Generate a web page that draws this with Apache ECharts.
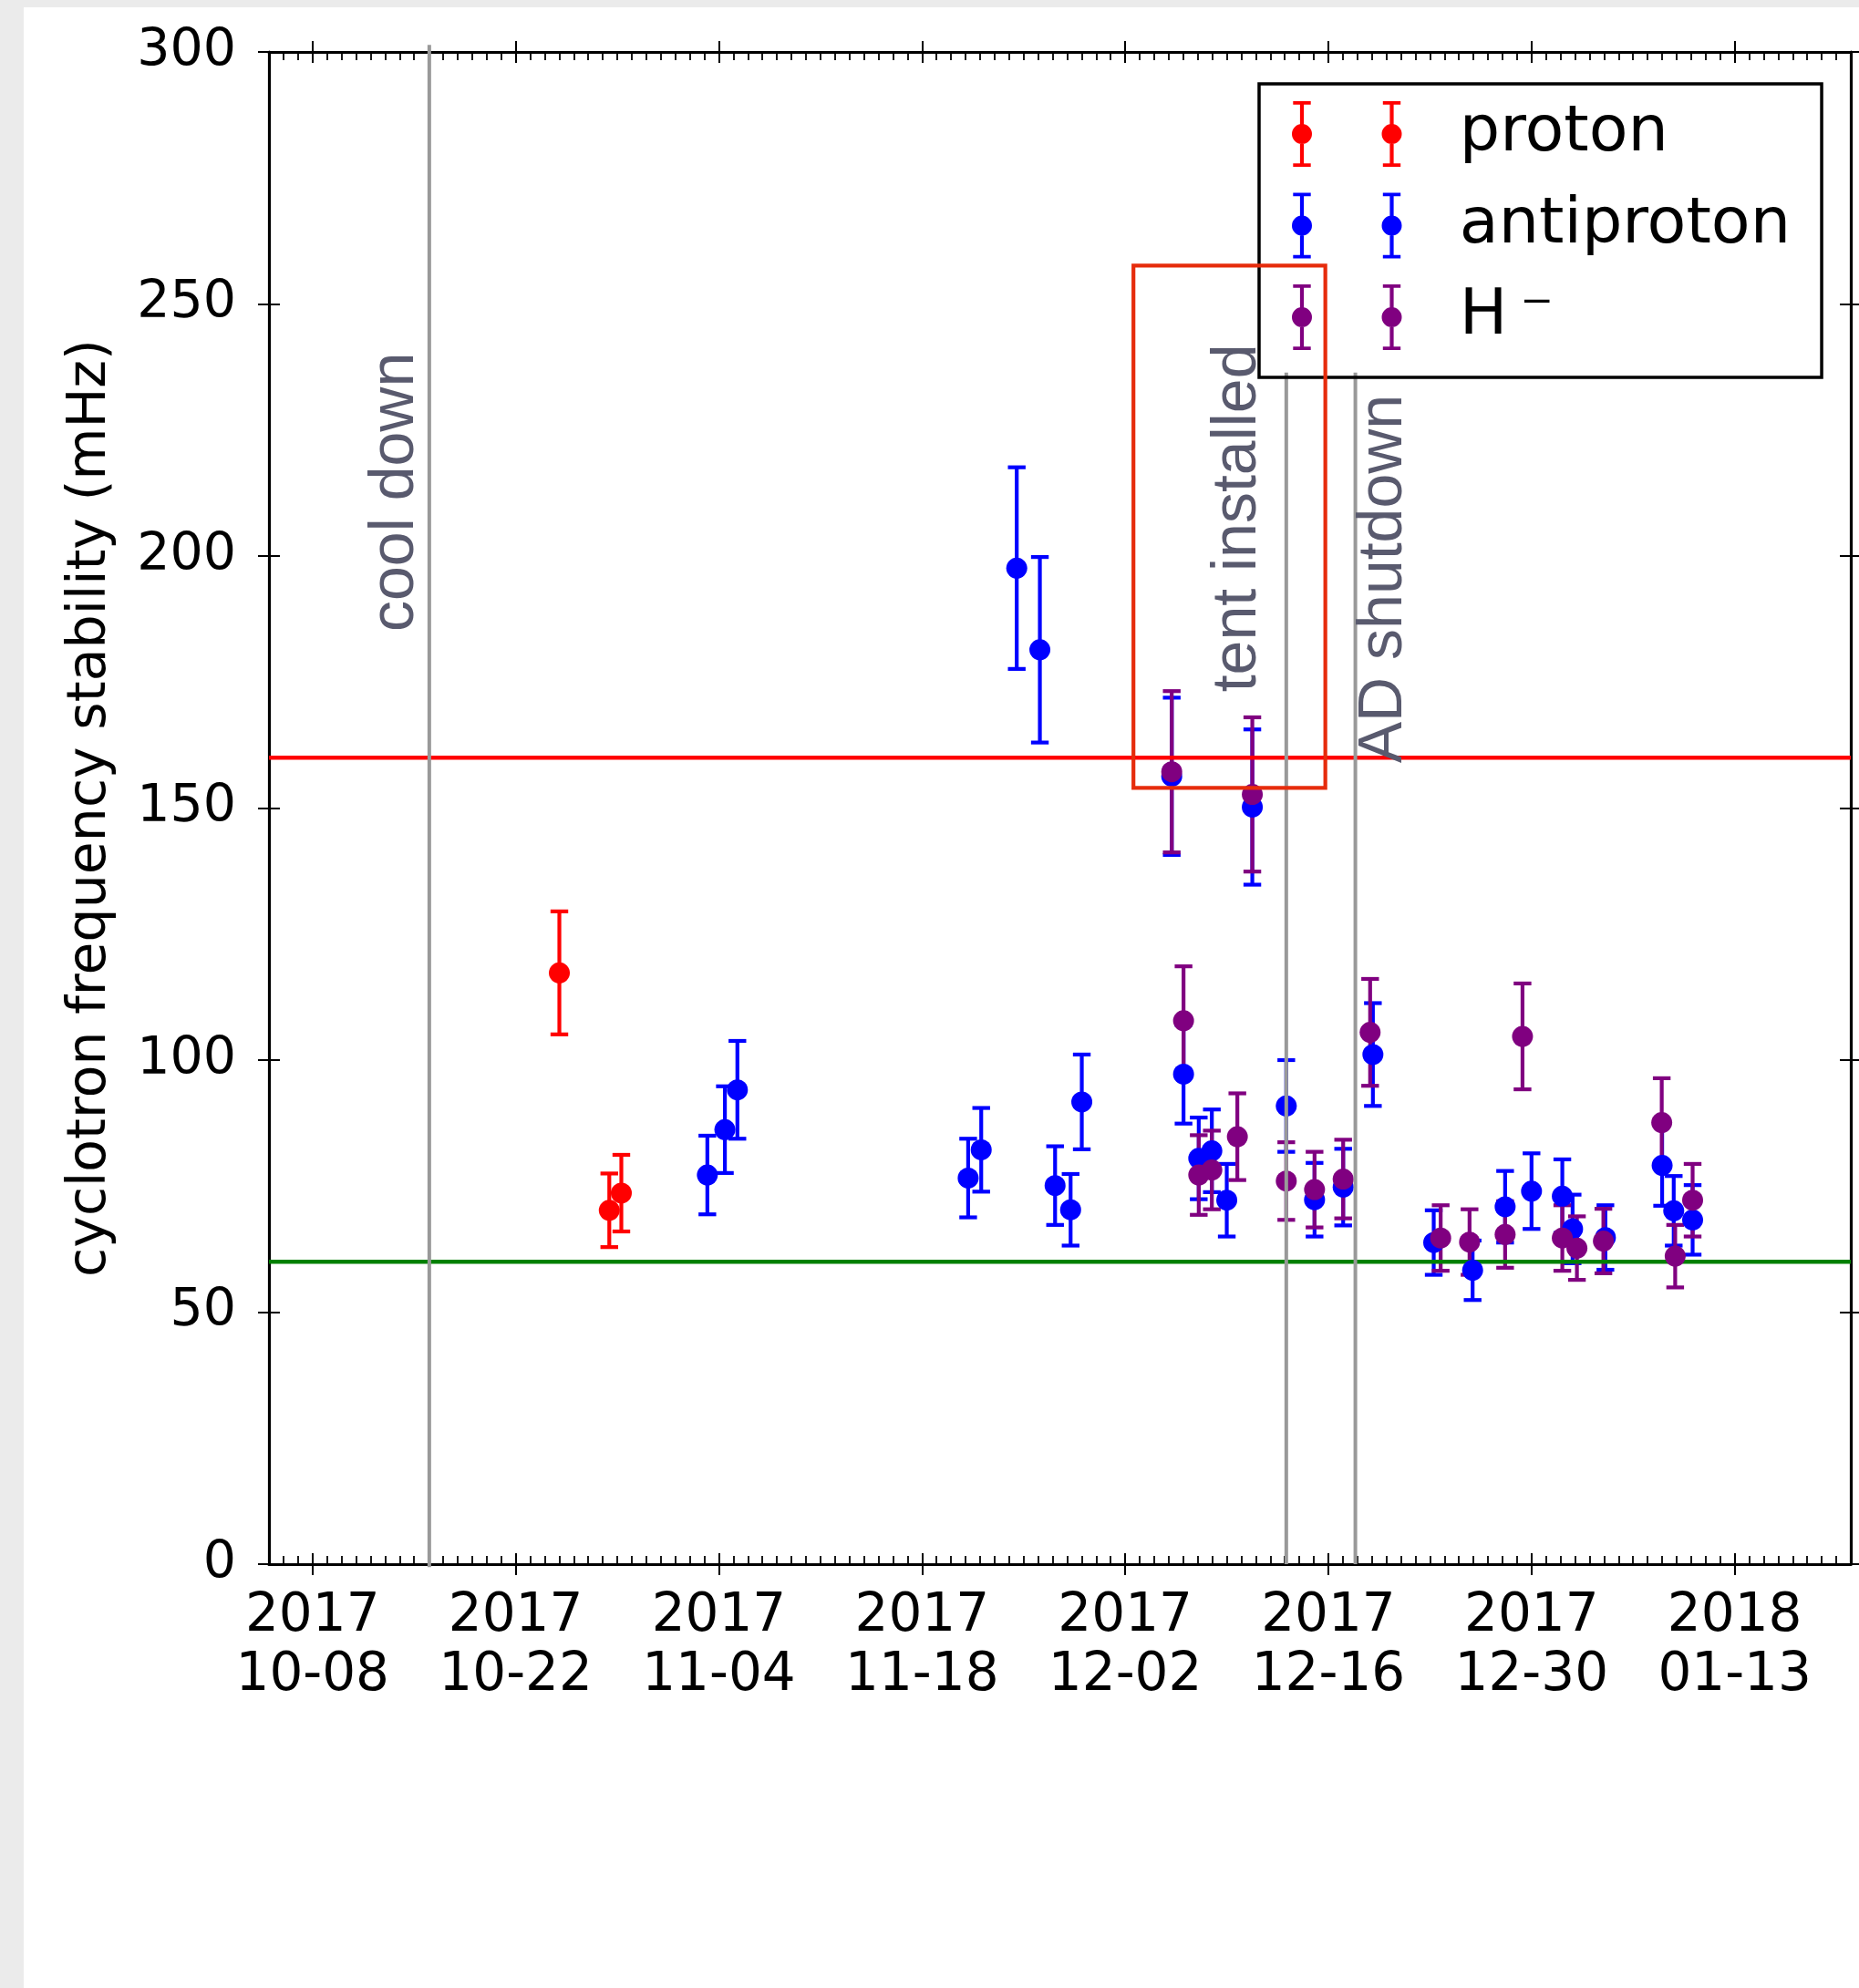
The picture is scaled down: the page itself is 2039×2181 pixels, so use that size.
<!DOCTYPE html>
<html>
<head>
<meta charset="utf-8">
<title>Cyclotron frequency stability</title>
<script src="https://cdn.jsdelivr.net/npm/echarts@6/dist/echarts.min.js"></script>
<style>
  html, body { margin: 0; padding: 0; width: 2039px; height: 2181px; overflow: hidden; background: #ebebeb; }
  #sheet { position: absolute; left: 26px; top: 8px; right: 0; bottom: 0; background: #ffffff; }
  #chart { position: absolute; left: 0; top: 0; width: 2039px; height: 2181px; }
</style>
</head>
<body>
<div id="sheet"></div>
<div id="chart"></div>
<script>
// ---- time axis: days counted from local midnight 2017-10-08 ----
const ORIGIN = '2017-10-08T00:00+02:00';
const X_MIN = -3;
const X_MAX = 106;
const tickDays = [0, 14, 28, 42, 56, 70, 84, 98];
const tickLabels = ['2017\n10-08', '2017\n10-22', '2017\n11-04', '2017\n11-18',
                    '2017\n12-02', '2017\n12-16', '2017\n12-30', '2018\n01-13'];

// ---- measurements: time, stability (mHz), uncertainty (mHz) ----
const protonDates = ['2017-10-25T00:15+02:00', '2017-10-28T10:50+02:00', '2017-10-29T05:45+01:00'];
const protonValues = [117.3, 70.2, 73.6];
const protonErrors = [12.2, 7.3, 7.6];

const antiprotonDates = [
  '2017-11-04T04:00+01:00', '2017-11-05T09:00+01:00', '2017-11-06T05:40+01:00',
  '2017-11-22T03:20+01:00', '2017-11-23T00:55+01:00', '2017-11-25T11:40+01:00',
  '2017-11-27T01:55+01:00', '2017-11-28T03:05+01:00', '2017-11-29T04:45+01:00',
  '2017-11-29T23:15+01:00', '2017-12-06T04:00+01:00', '2017-12-06T23:30+01:00',
  '2017-12-08T00:40+01:00', '2017-12-08T22:20+01:00', '2017-12-09T23:00+01:00',
  '2017-12-11T17:15+01:00', '2017-12-14T01:25+01:00', '2017-12-16T00:10+01:00',
  '2017-12-17T23:30+01:00', '2017-12-20T00:40+01:00', '2017-12-24T05:15+01:00',
  '2017-12-26T21:35+01:00', '2017-12-29T03:20+01:00', '2017-12-30T23:00+01:00',
  '2018-01-02T01:55+01:00', '2018-01-02T18:55+01:00', '2018-01-05T01:10+01:00',
  '2018-01-08T23:00+01:00', '2018-01-09T18:10+01:00', '2018-01-11T01:25+01:00'
];
const antiprotonValues = [
  77.2, 86.2, 94.1, 76.6, 82.2, 197.6, 181.4, 75.1, 70.3, 91.7,
  156.3, 97.2, 80.5, 82.0, 72.2, 150.2, 90.9, 72.3, 74.8, 101.1,
  63.8, 58.3, 70.9, 74.0, 73.0, 66.5, 64.8, 79.1, 70.1, 68.3
];
const antiprotonErrors = [
  7.8, 8.6, 9.7, 7.8, 8.3, 20.0, 18.4, 7.8, 7.1, 9.4,
  15.6, 9.8, 8.1, 8.2, 7.2, 15.4, 9.1, 7.3, 7.6, 10.2,
  6.4, 5.9, 7.1, 7.5, 7.3, 6.8, 6.4, 8.0, 6.9, 6.9
];

const hminusDates = [
  '2017-12-06T04:00+01:00', '2017-12-06T23:30+01:00', '2017-12-08T00:40+01:00',
  '2017-12-08T22:20+01:00', '2017-12-10T16:30+01:00', '2017-12-11T17:15+01:00',
  '2017-12-14T01:25+01:00', '2017-12-16T00:10+01:00', '2017-12-17T23:30+01:00',
  '2017-12-19T20:05+01:00', '2017-12-24T16:45+01:00', '2017-12-26T16:30+01:00',
  '2017-12-29T03:20+01:00', '2017-12-30T08:05+01:00', '2018-01-02T01:55+01:00',
  '2018-01-03T02:05+01:00', '2018-01-04T21:50+01:00', '2018-01-08T22:20+01:00',
  '2018-01-09T20:35+01:00', '2018-01-11T01:25+01:00'
];
const hminusValues = [
  157.2, 107.8, 77.2, 78.2, 84.8, 152.7, 76.0, 74.3, 76.4, 105.5,
  64.7, 63.9, 65.4, 104.7, 64.7, 62.7, 64.1, 87.6, 61.1, 72.2
];
const hminusErrors = [
  16.0, 10.8, 7.9, 7.8, 8.6, 15.3, 7.7, 7.5, 7.8, 10.6,
  6.5, 6.5, 6.6, 10.5, 6.5, 6.3, 6.4, 8.8, 6.2, 7.2
];

// ---- reference levels (mHz) ----
const limitValues = [160, 60];

// ---- events ----
const eventDates = ['2017-10-16T01:10+02:00', '2017-12-14T01:25+01:00', '2017-12-18T19:40+01:00'];
const eventNames = ['cool down', 'tent installed', 'AD shutdown'];
const eventLineBottom = [-0.6, 0, 0];
const eventLineTop = [301.4, 236.4, 236.4];
const eventLabelStart = [185.0, 173.0, 158.9];

// ---- highlighted period ----
const highlightDates = ['2017-12-03T12:40+01:00', '2017-12-16T18:00+01:00'];
const highlightRange = [154.0, 257.6];

// ---- styling ----
const FONT = 'DejaVu Sans';
const NOTE_FONT = 'Liberation Sans';
const COLORS = { proton: '#ff0000', antiproton: '#0000ff', hminus: '#800080' };
const LIMIT_COLORS = ['#ff0000', '#008000'];
const EVENT_COLOR = '#999999';
const NOTE_COLOR = '#595a6e';
const HIGHLIGHT_COLOR = '#e62c0c';
const BAR_WIDTH = 4.2;
const CAP_HALF = 9.7;
const eventLabelStyle = [
  { verticalAlign: 'bottom', dx: -3 },
  { verticalAlign: 'bottom', dx: -19 },
  { verticalAlign: 'top', dx: -2 }
];

const ORIGIN_MS = Date.parse(ORIGIN);
const day = s => (Date.parse(s) - ORIGIN_MS) / 86400000;

// legend glyph: two error bars with a dot each
function rectPath(x1, y1, x2, y2) {
  return `M${x1} ${y1}L${x2} ${y1}L${x2} ${y2}L${x1} ${y2}Z`;
}
function barGlyph(cx) {
  const r = 11, bw = 2.1, cw = 9.7, ct = 3.8, h = 72, cy = 36;
  return rectPath(cx - bw, 0, cx + bw, h) +
         rectPath(cx - cw, 0, cx + cw, ct) +
         rectPath(cx - cw, h - ct, cx + cw, h) +
         `M${cx - r} ${cy}A${r} ${r} 0 1 1 ${cx + r} ${cy}A${r} ${r} 0 1 1 ${cx - r} ${cy}Z`;
}
const LEGEND_ICON = 'path://' + barGlyph(11) + barGlyph(109.5);

function errorBars(name, dates, values, errors, color) {
  return {
    type: 'custom', name, z: 2, silent: true,
    itemStyle: { color },
    data: dates.map((d, i) => [day(d), values[i] - errors[i], values[i] + errors[i]]),
    encode: { x: 0, y: [1, 2] },
    renderItem(params, api) {
      const hi = api.coord([api.value(0), api.value(2)]);
      const lo = api.coord([api.value(0), api.value(1)]);
      const st = { stroke: color, lineWidth: BAR_WIDTH };
      return {
        type: 'group',
        children: [
          { type: 'line', shape: { x1: hi[0], y1: hi[1], x2: lo[0], y2: lo[1] }, style: st },
          { type: 'line', shape: { x1: hi[0] - CAP_HALF, y1: hi[1], x2: hi[0] + CAP_HALF, y2: hi[1] }, style: st },
          { type: 'line', shape: { x1: lo[0] - CAP_HALF, y1: lo[1], x2: lo[0] + CAP_HALF, y2: lo[1] }, style: st }
        ]
      };
    }
  };
}

function dots(name, dates, values, color) {
  return {
    type: 'scatter', name, z: 3, silent: true,
    symbol: 'circle', symbolSize: 23,
    itemStyle: { color, opacity: 1 },
    data: dates.map((d, i) => [day(d), values[i]])
  };
}

const limitSeries = {
  type: 'custom', name: 'limits', z: 2, silent: true,
  data: limitValues.map((v, i) => [v, i]),
  encode: { y: 0 },
  renderItem(params, api) {
    const a = api.coord([X_MIN, api.value(0)]);
    const b = api.coord([X_MAX, api.value(0)]);
    return {
      type: 'line', shape: { x1: a[0], y1: a[1], x2: b[0], y2: b[1] },
      style: { stroke: LIMIT_COLORS[api.value(1)], lineWidth: 4.5 }
    };
  }
};

const eventSeries = {
  type: 'custom', name: 'events', z: 4, silent: true, clip: false,
  data: eventDates.map((d, i) => [day(d), eventLineBottom[i], eventLineTop[i], eventLabelStart[i], i]),
  encode: { x: 0, y: [1, 2] },
  renderItem(params, api) {
    const i = api.value(4);
    const p0 = api.coord([api.value(0), api.value(1)]);
    const p1 = api.coord([api.value(0), api.value(2)]);
    const pl = api.coord([api.value(0), api.value(3)]);
    const ls = eventLabelStyle[i];
    return {
      type: 'group',
      children: [
        { type: 'line', shape: { x1: p0[0], y1: p0[1], x2: p1[0], y2: p1[1] },
          style: { stroke: EVENT_COLOR, lineWidth: 4 } },
        { type: 'text', x: pl[0] + ls.dx, y: pl[1], rotation: Math.PI / 2,
          style: { text: eventNames[i], fill: NOTE_COLOR, fontSize: 68, fontFamily: NOTE_FONT,
                   align: 'left', verticalAlign: ls.verticalAlign } }
      ]
    };
  }
};

const highlightSeries = {
  type: 'custom', name: 'highlight', z: 10, silent: true, clip: false,
  data: [[day(highlightDates[0]), highlightRange[0], day(highlightDates[1]), highlightRange[1]]],
  encode: { x: [0, 2], y: [1, 3] },
  renderItem(params, api) {
    const a = api.coord([api.value(0), api.value(1)]);
    const b = api.coord([api.value(2), api.value(3)]);
    return {
      type: 'rect',
      shape: { x: a[0], y: b[1], width: b[0] - a[0], height: a[1] - b[1] },
      style: { fill: 'none', stroke: HIGHLIGHT_COLOR, lineWidth: 4.2 }
    };
  }
};

const AXIS_LINE = { color: '#000', width: 3.2 };
const TICK_LINE = { color: '#000', width: 2 };
const MINOR_LINE = { color: '#000', width: 1.8 };

function xAxisLayer(position, opts) {
  return Object.assign({
    type: 'value', position, min: X_MIN, max: X_MAX,
    axisLine: { show: false, onZero: false },
    axisTick: { show: false },
    axisLabel: { show: false },
    splitLine: { show: false }
  }, opts);
}
function yAxisLayer(position, opts) {
  return Object.assign({
    type: 'value', position, min: 0, max: 300, interval: 50,
    axisLine: { show: false, onZero: false },
    axisTick: { show: false },
    axisLabel: { show: false },
    splitLine: { show: false }
  }, opts);
}

const xAxes = [];
['bottom', 'top'].forEach(pos => {
  xAxes.push(xAxisLayer(pos, {
    axisLine: { show: true, onZero: false, lineStyle: AXIS_LINE },
    axisTick: { show: true, inside: false, length: 12, customValues: tickDays, lineStyle: TICK_LINE },
    axisLabel: pos === 'bottom' ? {
      show: true, customValues: tickDays, margin: 25,
      formatter: v => tickLabels[tickDays.indexOf(v)],
      fontFamily: FONT, fontSize: 58, lineHeight: 65, color: '#000'
    } : { show: false }
  }));
  xAxes.push(xAxisLayer(pos, {
    axisTick: { show: true, inside: true, length: 12, customValues: tickDays, lineStyle: TICK_LINE }
  }));
  xAxes.push(xAxisLayer(pos, {
    interval: 1,
    axisTick: { show: true, inside: true, length: 9, lineStyle: MINOR_LINE }
  }));
});

const yAxes = [];
['left', 'right'].forEach(pos => {
  yAxes.push(yAxisLayer(pos, Object.assign({
    axisLine: { show: true, onZero: false, lineStyle: AXIS_LINE },
    axisTick: { show: true, inside: false, length: 12, lineStyle: TICK_LINE },
    axisLabel: pos === 'left'
      ? { show: true, margin: 36, fontFamily: FONT, fontSize: 57, color: '#000' }
      : { show: false }
  }, pos === 'left' ? {
    name: 'cyclotron frequency stability (mHz)',
    nameLocation: 'middle', nameGap: 166,
    nameTextStyle: { fontFamily: FONT, fontSize: 58.5, color: '#000' }
  } : {})));
  yAxes.push(yAxisLayer(pos, {
    axisTick: { show: true, inside: true, length: 12, lineStyle: TICK_LINE }
  }));
});

const seriesNames = ['proton', 'antiproton', 'H⁻'];

const chart = echarts.init(document.getElementById('chart'), null, {
  renderer: 'canvas', width: 2039, height: 2181
});

chart.setOption({
  animation: false,
  backgroundColor: 'transparent',
  textStyle: { fontFamily: FONT },
  grid: { left: 295, top: 57, width: 1735, height: 1659, containLabel: false },
  xAxis: xAxes,
  yAxis: yAxes,
  legend: {
    orient: 'vertical', left: 1381, top: 92, z: 5,
    padding: [19, 34, 30, 36],
    itemWidth: 121, itemHeight: 72, itemGap: 28.5,
    borderColor: '#000', borderWidth: 3.5, backgroundColor: 'transparent',
    selectedMode: false,
    data: seriesNames.map(n => ({ name: n, icon: LEGEND_ICON })),
    formatter: n => (n === 'H⁻' ? 'H\u2009⁻' : n),
    textStyle: { fontFamily: FONT, fontSize: 70, color: '#000', padding: [18, 0, 0, 58] }
  },
  series: [
    errorBars('proton', protonDates, protonValues, protonErrors, COLORS.proton),
    errorBars('antiproton', antiprotonDates, antiprotonValues, antiprotonErrors, COLORS.antiproton),
    errorBars('H⁻', hminusDates, hminusValues, hminusErrors, COLORS.hminus),
    limitSeries,
    dots('proton', protonDates, protonValues, COLORS.proton),
    dots('antiproton', antiprotonDates, antiprotonValues, COLORS.antiproton),
    dots('H⁻', hminusDates, hminusValues, COLORS.hminus),
    eventSeries,
    highlightSeries
  ]
});
</script>
</body>
</html>
